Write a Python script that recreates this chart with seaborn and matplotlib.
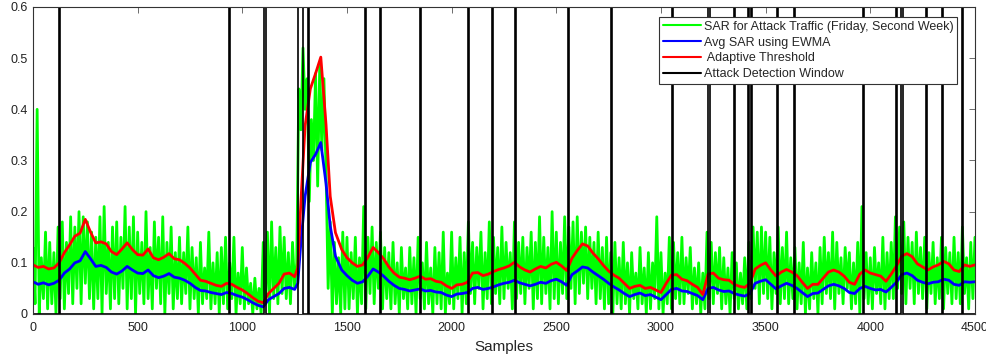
import numpy as np
import pandas as pd
import matplotlib
matplotlib.use("Agg")
import matplotlib.pyplot as plt
import seaborn as sns

# ---- data -------------------------------------------------------------
# SAR of the attack traffic, one reading every 10 samples (rows of 100 samples)
sar_step = 10
sar_values = [
    0.13, 0.02, 0.40, 0.00, 0.11, 0.03, 0.16, 0.01, 0.14, 0.02,
    0.12, 0.00, 0.17, 0.03, 0.18, 0.01, 0.14, 0.04, 0.19, 0.02,
    0.17, 0.05, 0.20, 0.02, 0.19, 0.06, 0.18, 0.03, 0.16, 0.01,
    0.15, 0.03, 0.19, 0.00, 0.21, 0.04, 0.14, 0.01, 0.17, 0.03,
    0.18, 0.02, 0.15, 0.05, 0.21, 0.01, 0.17, 0.03, 0.19, 0.00,
    0.16, 0.04, 0.14, 0.02, 0.20, 0.03, 0.13, 0.01, 0.18, 0.05,
    0.15, 0.02, 0.19, 0.00, 0.14, 0.04, 0.17, 0.01, 0.12, 0.03,
    0.15, 0.02, 0.12, 0.04, 0.17, 0.01, 0.13, 0.03, 0.11, 0.00,
    0.14, 0.02, 0.09, 0.03, 0.16, 0.01, 0.10, 0.02, 0.12, 0.00,
    0.13, 0.02, 0.15, 0.01, 0.10, 0.03, 0.15, 0.00, 0.08, 0.02,
    0.13, 0.01, 0.09, 0.02, 0.06, 0.00, 0.07, 0.01, 0.05, 0.00,
    0.14, 0.02, 0.16, 0.00, 0.18, 0.03, 0.13, 0.02, 0.17, 0.04,
    0.15, 0.03, 0.12, 0.02, 0.14, 0.05, 0.10, 0.44, 0.36, 0.52,
    0.40, 0.46, 0.22, 0.38, 0.30, 0.47, 0.25, 0.49, 0.32, 0.46,
    0.28, 0.05, 0.18, 0.00, 0.14, 0.02, 0.11, 0.00, 0.16, 0.01,
    0.15, 0.01, 0.12, 0.03, 0.15, 0.00, 0.11, 0.02, 0.21, 0.01,
    0.15, 0.04, 0.17, 0.02, 0.14, 0.05, 0.16, 0.01, 0.13, 0.03,
    0.12, 0.01, 0.14, 0.02, 0.10, 0.00, 0.13, 0.03, 0.09, 0.01,
    0.13, 0.02, 0.11, 0.00, 0.15, 0.03, 0.10, 0.01, 0.14, 0.02,
    0.09, 0.00, 0.13, 0.02, 0.12, 0.01, 0.16, 0.00, 0.08, 0.02,
    0.16, 0.01, 0.11, 0.03, 0.15, 0.00, 0.12, 0.02, 0.18, 0.04,
    0.14, 0.02, 0.13, 0.05, 0.16, 0.01, 0.12, 0.03, 0.18, 0.02,
    0.15, 0.04, 0.13, 0.02, 0.17, 0.03, 0.14, 0.05, 0.12, 0.01,
    0.18, 0.03, 0.14, 0.04, 0.15, 0.02, 0.13, 0.05, 0.16, 0.01,
    0.14, 0.03, 0.19, 0.02, 0.15, 0.04, 0.13, 0.01, 0.20, 0.03,
    0.16, 0.02, 0.14, 0.04, 0.19, 0.03, 0.17, 0.05, 0.18, 0.02,
    0.19, 0.04, 0.16, 0.06, 0.17, 0.03, 0.15, 0.05, 0.14, 0.02,
    0.16, 0.03, 0.13, 0.01, 0.15, 0.02, 0.12, 0.00, 0.14, 0.02,
    0.11, 0.01, 0.14, 0.02, 0.10, 0.00, 0.12, 0.03, 0.08, 0.01,
    0.13, 0.02, 0.09, 0.00, 0.12, 0.01, 0.10, 0.03, 0.19, 0.01,
    0.12, 0.00, 0.08, 0.02, 0.15, 0.01, 0.14, 0.03, 0.12, 0.02,
    0.15, 0.02, 0.11, 0.04, 0.13, 0.01, 0.09, 0.02, 0.10, 0.00,
    0.08, 0.01, 0.16, 0.03, 0.14, 0.02, 0.12, 0.04, 0.13, 0.01,
    0.11, 0.02, 0.09, 0.00, 0.12, 0.03, 0.10, 0.01, 0.08, 0.02,
    0.11, 0.01, 0.14, 0.03, 0.17, 0.05, 0.16, 0.02, 0.17, 0.04,
    0.16, 0.03, 0.15, 0.01, 0.12, 0.04, 0.17, 0.02, 0.13, 0.03,
    0.16, 0.02, 0.11, 0.03, 0.13, 0.01, 0.10, 0.02, 0.14, 0.00,
    0.09, 0.01, 0.12, 0.03, 0.10, 0.00, 0.13, 0.02, 0.15, 0.04,
    0.12, 0.03, 0.16, 0.01, 0.14, 0.04, 0.11, 0.02, 0.13, 0.05,
    0.12, 0.01, 0.10, 0.02, 0.14, 0.00, 0.21, 0.03, 0.12, 0.02,
    0.11, 0.01, 0.13, 0.04, 0.10, 0.02, 0.15, 0.01, 0.12, 0.03,
    0.14, 0.03, 0.19, 0.05, 0.17, 0.04, 0.18, 0.02, 0.15, 0.05,
    0.14, 0.02, 0.16, 0.04, 0.13, 0.03, 0.15, 0.01, 0.12, 0.04,
    0.14, 0.02, 0.11, 0.03, 0.15, 0.01, 0.13, 0.04, 0.12, 0.02,
    0.15, 0.03, 0.12, 0.02, 0.17, 0.04, 0.11, 0.01, 0.14, 0.03,
    0.15,
]

# EWMA average and adaptive threshold: every 25 samples, denser in the attack
ewma_samples = (list(range(0, 1251, 25))
                + [1265, 1280, 1300, 1325, 1350, 1375, 1400, 1420, 1445,
                   1475, 1500]
                + list(range(1525, 4501, 25)))
avg_sar = [
    # 0 - 1250
    0.063, 0.058, 0.061, 0.057, 0.060, 0.066, 0.080, 0.088, 0.100, 0.104,
    0.122, 0.108, 0.093, 0.095, 0.091, 0.082, 0.078, 0.084, 0.093, 0.086,
    0.080, 0.079, 0.086, 0.075, 0.071, 0.074, 0.079, 0.072, 0.070, 0.066,
    0.060, 0.052, 0.046, 0.045, 0.042, 0.040, 0.038, 0.042, 0.040, 0.036,
    0.033, 0.028, 0.022, 0.017, 0.014, 0.028, 0.034, 0.040, 0.050, 0.052,
    0.048,
    # attack 1265 - 1500
    0.060, 0.140, 0.230, 0.296, 0.312, 0.335, 0.255, 0.172, 0.113, 0.086,
    0.075,
    # 1525 - 4500
    0.066, 0.060, 0.063, 0.074, 0.088, 0.082, 0.074, 0.064, 0.056, 0.050,
    0.048, 0.045, 0.047, 0.049, 0.045, 0.046, 0.043, 0.042, 0.037, 0.034,
    0.039, 0.040, 0.042, 0.050, 0.052, 0.048, 0.050, 0.053, 0.057, 0.060,
    0.062, 0.066, 0.061, 0.058, 0.055, 0.058, 0.062, 0.060, 0.065, 0.068,
    0.063, 0.056, 0.077, 0.084, 0.092, 0.090, 0.082, 0.075, 0.068, 0.060,
    0.053, 0.047, 0.040, 0.034, 0.038, 0.041, 0.036, 0.038, 0.033, 0.028,
    0.038, 0.048, 0.050, 0.045, 0.044, 0.040, 0.036, 0.028, 0.050, 0.052,
    0.047, 0.044, 0.045, 0.040, 0.037, 0.035, 0.040, 0.060, 0.064, 0.067,
    0.058, 0.049, 0.055, 0.060, 0.056, 0.050, 0.042, 0.034, 0.040, 0.041,
    0.048, 0.055, 0.058, 0.055, 0.050, 0.042, 0.040, 0.050, 0.054, 0.050,
    0.047, 0.048, 0.043, 0.052, 0.062, 0.077, 0.080, 0.075, 0.066, 0.062,
    0.059, 0.062, 0.063, 0.068, 0.066, 0.058, 0.056, 0.063, 0.062, 0.063,
]
threshold = [
    # 0 - 1250
    0.096, 0.091, 0.093, 0.088, 0.090, 0.100, 0.120, 0.135, 0.152, 0.158,
    0.185, 0.160, 0.139, 0.141, 0.137, 0.122, 0.116, 0.127, 0.139, 0.126,
    0.116, 0.115, 0.127, 0.110, 0.106, 0.111, 0.118, 0.108, 0.106, 0.099,
    0.090, 0.078, 0.066, 0.064, 0.060, 0.056, 0.054, 0.060, 0.058, 0.052,
    0.047, 0.040, 0.032, 0.025, 0.022, 0.040, 0.050, 0.060, 0.078, 0.080,
    0.073,
    # attack 1265 - 1500
    0.090, 0.220, 0.368, 0.440, 0.470, 0.502, 0.370, 0.230, 0.159, 0.126,
    0.110,
    # 1525 - 4500
    0.100, 0.093, 0.096, 0.111, 0.130, 0.120, 0.108, 0.092, 0.080, 0.072,
    0.070, 0.067, 0.070, 0.074, 0.068, 0.069, 0.064, 0.062, 0.055, 0.050,
    0.057, 0.058, 0.062, 0.080, 0.081, 0.075, 0.078, 0.083, 0.087, 0.090,
    0.094, 0.101, 0.092, 0.086, 0.082, 0.088, 0.093, 0.090, 0.097, 0.101,
    0.094, 0.085, 0.109, 0.124, 0.137, 0.133, 0.119, 0.108, 0.095, 0.084,
    0.076, 0.070, 0.060, 0.050, 0.054, 0.056, 0.050, 0.052, 0.047, 0.042,
    0.060, 0.076, 0.077, 0.068, 0.065, 0.058, 0.052, 0.038, 0.078, 0.080,
    0.070, 0.067, 0.066, 0.058, 0.054, 0.052, 0.060, 0.088, 0.095, 0.100,
    0.086, 0.074, 0.082, 0.087, 0.082, 0.075, 0.062, 0.050, 0.058, 0.058,
    0.070, 0.082, 0.086, 0.082, 0.074, 0.062, 0.058, 0.078, 0.086, 0.080,
    0.077, 0.074, 0.064, 0.078, 0.094, 0.113, 0.118, 0.112, 0.098, 0.092,
    0.086, 0.092, 0.096, 0.103, 0.098, 0.086, 0.083, 0.096, 0.093, 0.096,
]

# attack detection windows (start, end) in samples
window_start = [124, 937, 1106, 1268, 1312, 1584, 1659, 1848, 2080, 2192,
                2302, 2558, 2763, 3051, 3227, 3347, 3414, 3430, 3552, 3635,
                3966, 4123, 4149, 4264, 4344, 4440]
window_end = [129, 942, 1111, 1292, 1318, 1589, 1664, 1853, 2085, 2197,
              2307, 2563, 2768, 3056, 3232, 3352, 3419, 3435, 3557, 3640,
              3971, 4128, 4154, 4269, 4349, 4445]
window_level = 0.6

x_ticks = [0, 500, 1000, 1500, 2000, 2500, 3000, 3500, 4000, 4500]
y_ticks = [0, 0.1, 0.2, 0.3, 0.4, 0.5, 0.6]
y_tick_labels = ["0", "0.1", "0.2", "0.3", "0.4", "0.5", "0.6"]

labels = ["SAR for Attack Traffic (Friday, Second Week)",
          "Avg SAR using EWMA",
          " Adaptive Threshold",
          "Attack Detection Window"]

# ---- tables -----------------------------------------------------------
sar_df = pd.DataFrame({"Samples": np.arange(len(sar_values)) * sar_step,
                       "SAR": sar_values})
ewma_df = pd.DataFrame({"Samples": ewma_samples, "Avg": avg_sar,
                        "Threshold": threshold})

# the detection signal is a square wave: high inside each window
wx, wy = [0], [0.0]
for s, e in zip(window_start, window_end):
    wx += [s, s, e, e]
    wy += [0.0, window_level, window_level, 0.0]
wx.append(x_ticks[-1])
wy.append(0.0)
win_df = pd.DataFrame({"Samples": wx, "Window": wy})

# ---- figure -----------------------------------------------------------
sns.set_style("white")
plt.rcParams["font.family"] = ["Liberation Sans", "DejaVu Sans"]

fig = plt.figure(figsize=(9.87, 3.62), dpi=100)
ax = fig.add_axes([0.0334, 0.1326, 0.9544, 0.8481])

sns.lineplot(data=sar_df, x="Samples", y="SAR", ax=ax, color="#00ff00",
             lw=2.0, label=labels[0])
sns.lineplot(data=ewma_df, x="Samples", y="Avg", ax=ax, color="#0000ff",
             lw=2.0, label=labels[1])
sns.lineplot(data=ewma_df, x="Samples", y="Threshold", ax=ax,
             color="#ff0000", lw=2.0, label=labels[2])
sns.lineplot(data=win_df, x="Samples", y="Window", ax=ax, color="black",
             lw=1.2, estimator=None, sort=False, label=labels[3])

ax.set_xlim(x_ticks[0], x_ticks[-1])
ax.set_ylim(y_ticks[0], y_ticks[-1])
ax.set_xticks(x_ticks)
ax.set_yticks(y_ticks)
ax.set_yticklabels(y_tick_labels)
ax.set_xlabel("Samples", fontsize=11, labelpad=4)
ax.set_ylabel("")

ax.tick_params(direction="in", length=4, width=0.6, color="#555555",
               labelsize=9, top=True, right=True,
               labelcolor="#222222")
ax.tick_params(axis="x", pad=6)
ax.tick_params(axis="y", pad=4)
for sp in ax.spines.values():
    sp.set_color("#333333")
    sp.set_linewidth(0.8)

leg = ax.legend(loc="upper right", bbox_to_anchor=(0.981, 0.967),
                borderaxespad=0, fontsize=9, handlelength=3.0,
                handletextpad=0.25, labelspacing=0.3, borderpad=0.3,
                fancybox=False, framealpha=1, edgecolor="#333333")
leg.get_frame().set_linewidth(0.8)
for h in leg.get_lines():
    h.set_linewidth(1.5)

fig.savefig("out.png", dpi=100)
